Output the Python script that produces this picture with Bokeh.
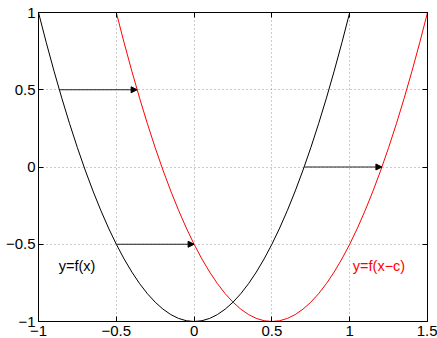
from bokeh.plotting import figure
from bokeh.models import LinearAxis, FixedTicker, Range1d, Arrow, NormalHead, Label
from bokeh.embed import file_html
from bokeh.resources import INLINE

# black curve y=f(x)
fx_x = [-1.00, -0.95, -0.90, -0.85, -0.80, -0.75, -0.70, -0.65, -0.60, -0.55, -0.50,
        -0.45, -0.40, -0.35, -0.30, -0.25, -0.20, -0.15, -0.10, -0.05, 0.00,
        0.05, 0.10, 0.15, 0.20, 0.25, 0.30, 0.35, 0.40, 0.45, 0.50,
        0.55, 0.60, 0.65, 0.70, 0.75, 0.80, 0.85, 0.90, 0.95, 1.00]
fx_y = [1.000, 0.805, 0.620, 0.445, 0.280, 0.125, -0.020, -0.155, -0.280, -0.395, -0.500,
        -0.595, -0.680, -0.755, -0.820, -0.875, -0.920, -0.955, -0.980, -0.995, -1.000,
        -0.995, -0.980, -0.955, -0.920, -0.875, -0.820, -0.755, -0.680, -0.595, -0.500,
        -0.395, -0.280, -0.155, -0.020, 0.125, 0.280, 0.445, 0.620, 0.805, 1.000]
# red curve y=f(x-c)
fxc_x = [-0.50, -0.45, -0.40, -0.35, -0.30, -0.25, -0.20, -0.15, -0.10, -0.05, 0.00,
         0.05, 0.10, 0.15, 0.20, 0.25, 0.30, 0.35, 0.40, 0.45, 0.50,
         0.55, 0.60, 0.65, 0.70, 0.75, 0.80, 0.85, 0.90, 0.95, 1.00,
         1.05, 1.10, 1.15, 1.20, 1.25, 1.30, 1.35, 1.40, 1.45, 1.50]
fxc_y = [1.000, 0.805, 0.620, 0.445, 0.280, 0.125, -0.020, -0.155, -0.280, -0.395, -0.500,
         -0.595, -0.680, -0.755, -0.820, -0.875, -0.920, -0.955, -0.980, -0.995, -1.000,
         -0.995, -0.980, -0.955, -0.920, -0.875, -0.820, -0.755, -0.680, -0.595, -0.500,
         -0.395, -0.280, -0.155, -0.020, 0.125, 0.280, 0.445, 0.620, 0.805, 1.000]

arrow_y = [0.5, -0.5, 0.0]
arrow_x_start = [-0.866, -0.5, 0.707]
arrow_x_end = [-0.366, 0.0, 1.207]

x_ticks = [-1, -0.5, 0, 0.5, 1, 1.5]
x_tick_labels = ["\u22121", "\u22120.5", "0", "0.5", "1", "1.5"]
y_ticks = [-1, -0.5, 0, 0.5, 1]
y_tick_labels = ["\u22121", "\u22120.5", "0", "0.5", "1"]

FONT = "Liberation Sans"
FS = "15px"
LFS = "14.5px"

p = figure(width=437, height=338, output_backend="svg", toolbar_location=None,
           x_range=Range1d(-1, 1.5), y_range=Range1d(-1, 1),
           x_axis_location=None, y_axis_location=None,
           min_border_left=38, min_border_right=10, min_border_top=12, min_border_bottom=16)
p.outline_line_color = "black"
p.outline_line_width = 1
p.background_fill_color = "white"
p.border_fill_color = "white"


def make_axis(ticks, labels, show_labels, standoff=3):
    ax = LinearAxis(ticker=FixedTicker(ticks=ticks))
    ax.major_tick_in = 5
    ax.major_tick_out = 0
    ax.minor_tick_in = 0
    ax.minor_tick_out = 0
    ax.axis_line_color = "black"
    ax.major_tick_line_color = "black"
    ax.major_label_text_font = FONT
    ax.major_label_text_color = "black"
    ax.major_label_text_font_size = FS
    if show_labels:
        ax.major_label_overrides = {t: l for t, l in zip(ticks, labels)}
        ax.major_label_standoff = standoff
    else:
        ax.major_label_overrides = {t: "" for t in ticks}
        ax.major_label_standoff = 0
    return ax


p.add_layout(make_axis(x_ticks, x_tick_labels, True, standoff=4), "below")
p.add_layout(make_axis(y_ticks, y_tick_labels, True, standoff=3), "left")
p.add_layout(make_axis(x_ticks, x_tick_labels, False), "above")
p.add_layout(make_axis(y_ticks, y_tick_labels, False), "right")

p.xgrid.ticker = FixedTicker(ticks=x_ticks)
p.ygrid.ticker = FixedTicker(ticks=y_ticks)
for g in (p.xgrid, p.ygrid):
    g.grid_line_color = "#999999"
    g.grid_line_dash = "1 3"
    g.grid_line_width = 1

p.line(fx_x, fx_y, line_color="black", line_width=1)
p.line(fxc_x, fxc_y, line_color="#ff0000", line_width=1)

for xs, xe, yy in zip(arrow_x_start, arrow_x_end, arrow_y):
    p.add_layout(Arrow(x_start=xs, y_start=yy, x_end=xe, y_end=yy,
                       line_color="#222222", line_width=1.2,
                       end=NormalHead(size=6, fill_color="black", line_color="black", line_width=1)))

p.add_layout(Label(x=-0.87, y=-0.64, text="y=f(x)", text_font=FONT, text_font_size=LFS,
                   text_color="black", text_baseline="middle"))
p.add_layout(Label(x=1.02, y=-0.64, text="y=f(x\u2212c)", text_font=FONT, text_font_size=LFS,
                   text_color="#ff0000", text_baseline="middle"))

open("out.html", "w").write(file_html(p, INLINE))
